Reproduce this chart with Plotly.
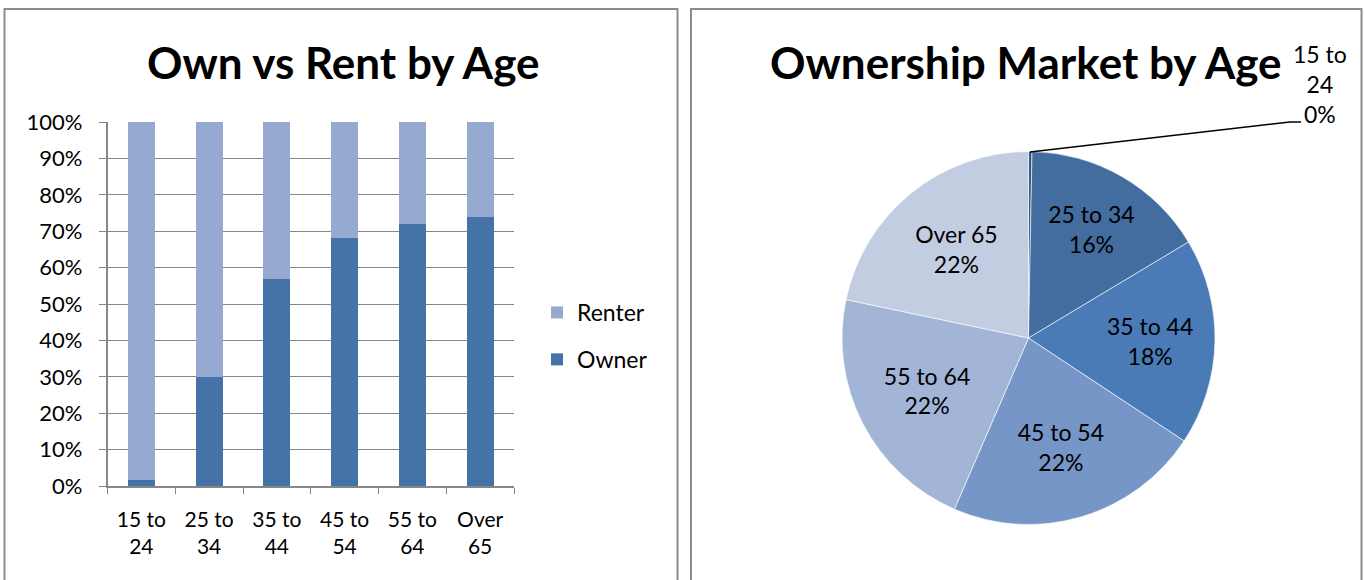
import plotly.graph_objects as go

# ---------------- data ----------------
age_groups = ["15 to 24", "25 to 34", "35 to 44", "45 to 54", "55 to 64", "Over 65"]
age_tick_labels = ["15 to<br>24", "25 to<br>34", "35 to<br>44", "45 to<br>54", "55 to<br>64", "Over<br>65"]
owner_share = [0.016, 0.30, 0.57, 0.68, 0.72, 0.74]
renter_share = [0.984, 0.70, 0.43, 0.32, 0.28, 0.26]

pie_labels = ["15 to 24", "25 to 34", "35 to 44", "45 to 54", "55 to 64", "Over 65"]
pie_values = [0.3, 16.1, 17.9, 22.2, 21.8, 21.7]
pie_colors = ["#34598a", "#436c9f", "#4a7bb7", "#7596c7", "#a2b5d6", "#c2cde2"]

owner_color = "#4673a7"
renter_color = "#96aad1"
FONT = "Lato"
W, H = 1364, 580

fig = go.Figure()

fig.add_trace(go.Bar(
    x=age_groups, y=owner_share, name="Owner",
    marker=dict(color=owner_color, line=dict(width=0)),
    width=0.4, legendgroup="o", legendrank=2, xaxis="x", yaxis="y",
))
fig.add_trace(go.Bar(
    x=age_groups, y=renter_share, name="Renter",
    marker=dict(color=renter_color, line=dict(width=0)),
    width=0.4, legendgroup="r", legendrank=1, xaxis="x", yaxis="y",
))

pie_text = [""] + [f"{l}<br>{round(v)}%" for l, v in zip(pie_labels[1:], pie_values[1:])]
fig.add_trace(go.Pie(
    labels=pie_labels, values=pie_values, sort=False, direction="clockwise",
    rotation=0, marker=dict(colors=pie_colors, line=dict(color="white", width=0.6)),
    text=pie_text, textinfo="text", textposition="inside",
    insidetextorientation="horizontal",
    textfont=dict(family=FONT, size=23, color="black"),
    domain=dict(x=[842 / W, 1215 / W], y=[55.5 / H, 428.5 / H]),
    showlegend=False, hoverinfo="label+percent", automargin=False,
))

grid_col = "#878787"
fig.update_layout(
    width=W, height=H,
    margin=dict(l=0, r=0, t=0, b=0, pad=0, autoexpand=False),
    paper_bgcolor="white", plot_bgcolor="white",
    barmode="stack", bargap=0.6,
    font=dict(family=FONT, size=20, color="black"),
    xaxis=dict(
        domain=[107.5 / W, 514 / W],
        tickmode="array", tickvals=age_groups, ticktext=age_tick_labels,
        tickson="boundaries", ticks="outside", ticklen=6, tickcolor=grid_col,
        showline=True, linecolor=grid_col, linewidth=1.5,
        tickfont=dict(family=FONT, size=21), showgrid=False,
        ticklabelstandoff=14, automargin=False,
        anchor="y", fixedrange=True,
    ),
    yaxis=dict(
        domain=[(H - 486) / H, (H - 122) / H],
        range=[0, 1], tickformat=".0%", dtick=0.1,
        ticks="outside", ticklen=7, tickcolor=grid_col,
        showline=True, linecolor=grid_col, linewidth=1.5,
        showgrid=True, gridcolor=grid_col, gridwidth=1.2,
        tickfont=dict(family=FONT, size=22), zeroline=False,
        ticklabelstandoff=12, automargin=False,
        anchor="x", fixedrange=True,
    ),
    legend=dict(
        x=537 / W, y=(H - 291) / H, xanchor="left", yanchor="top",
        traceorder="grouped", tracegroupgap=14,
        font=dict(family=FONT, size=23), bgcolor="rgba(0,0,0,0)",
        itemwidth=30,
    ),
    shapes=[
        dict(type="rect", xref="paper", yref="paper",
             x0=4.5 / W, x1=677.5 / W, y0=-0.05, y1=(H - 9) / H,
             line=dict(color="#8c8c8c", width=2)),
        dict(type="rect", xref="paper", yref="paper",
             x0=691 / W, x1=1361.5 / W, y0=-0.05, y1=(H - 9) / H,
             line=dict(color="#8c8c8c", width=2)),
        dict(type="path", xref="paper", yref="paper",
             path=f"M {1030 / W} {(H - 152) / H} L {1290 / W} {(H - 122) / H} L {1301 / W} {(H - 122) / H}",
             line=dict(color="black", width=1.5)),
    ],
    annotations=[
        dict(text="<b>Own vs Rent by Age</b>", xref="paper", yref="paper",
             x=342.5 / W, y=(H - 62) / H, xanchor="center", yanchor="middle",
             showarrow=False, font=dict(family=FONT, size=44, color="black")),
        dict(text="<b>Ownership Market by Age</b>", xref="paper", yref="paper",
             x=1026 / W, y=(H - 62) / H, xanchor="center", yanchor="middle",
             showarrow=False, font=dict(family=FONT, size=44, color="black")),
        dict(text=f"{pie_labels[0].replace(' 24', '<br>24')}<br>{round(pie_values[0])}%",
             xref="paper", yref="paper", x=1320 / W, y=(H - 84) / H,
             xanchor="center", yanchor="middle", align="center", showarrow=False,
             font=dict(family=FONT, size=23, color="black")),
    ],
)

fig.write_html(
    "out.html",
    config={"displayModeBar": False},
    post_script="document.body.style.margin='0px';document.body.style.overflow='hidden';",
)
